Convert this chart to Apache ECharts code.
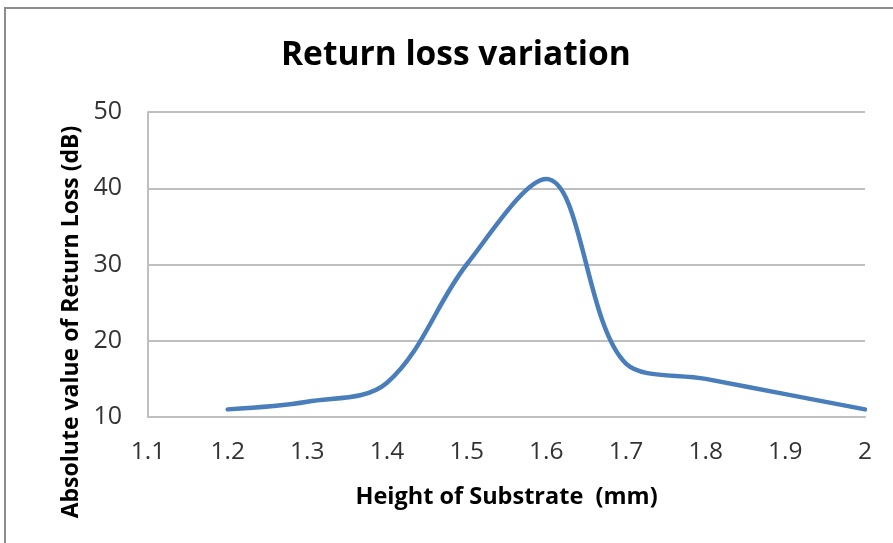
<!DOCTYPE html>
<html><head><meta charset="utf-8">
<script src="https://cdn.jsdelivr.net/npm/echarts@6/dist/echarts.min.js"></script>
<style>html,body{margin:0;padding:0;background:#fff}#c{width:893px;height:543px}</style>
</head><body><div id="c"></div>
<script>
const heights = [1.2, 1.3, 1.4, 1.5, 1.6, 1.7, 1.8, 1.9, 2.0];
const returnLoss = [11, 12, 14.5, 30, 41.2, 17, 15, 13, 11];
const xTicks = [1.1, 1.2, 1.3, 1.4, 1.5, 1.6, 1.7, 1.8, 1.9, 2.0];
const yTicks = [10, 20, 30, 40, 50];

const chart = echarts.init(document.getElementById('c'));
const font = '"Open Sans", "Liberation Sans", sans-serif';
chart.setOption({
  animation: false,
  backgroundColor: '#fff',
  title: {
    text: 'Return loss variation', left: 281, top: 38, padding: 0,
    textStyle: { fontFamily: font, fontWeight: 'bold', fontSize: 33.5, color: '#000' }
  },
  grid: { left: 148, right: 28, top: 112, bottom: 126 },
  xAxis: {
    type: 'value', min: 1.1, max: 2.0, interval: 0.1,
    name: 'Height of Substrate  (mm)', nameLocation: 'middle', nameGap: 68,
    nameTextStyle: { fontFamily: font, fontWeight: 'bold', fontSize: 23.5, color: '#000' },
    axisLine: { show: true, lineStyle: { color: '#bfbfbf', width: 2 } },
    axisTick: { show: false },
    splitLine: { show: false },
    axisLabel: { fontFamily: font, fontSize: 24.5, color: '#333', margin: 23,
      formatter: v => { const t = xTicks.find(x => Math.abs(x - v) < 1e-6); return t === undefined ? '' : String(+t.toFixed(1)); } }
  },
  yAxis: {
    type: 'value', min: yTicks[0], max: yTicks[yTicks.length - 1], interval: 10,
    axisLine: { show: true, lineStyle: { color: '#bfbfbf', width: 2 } },
    axisTick: { show: false },
    splitLine: { show: true, lineStyle: { color: '#bfbfbf', width: 2 } },
    axisLabel: { fontFamily: font, fontSize: 25, color: '#333', margin: 26 }
  },
  series: [{
    type: 'line', smooth: 0.35, symbol: 'none',
    data: heights.map((h, i) => [h, returnLoss[i]]),
    lineStyle: { color: '#4a7ebb', width: 4.5, cap: 'round' }
  }],
  graphic: [{
    type: 'rect', shape: { x: 5, y: 8, width: 900, height: 560 },
    style: { fill: 'none', stroke: '#8c8c8c', lineWidth: 2 }, silent: true
  }, {
    type: 'text', x: 71, y: 322, rotation: Math.PI / 2, silent: true,
    style: { text: 'Absolute value of Return Loss (dB)', fontFamily: font, fontWeight: 'bold',
      fontSize: 23, fill: '#000', align: 'center', verticalAlign: 'middle' }
  }]
});
</script></body></html>
